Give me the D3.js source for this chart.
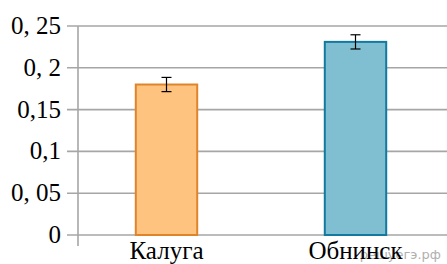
<!DOCTYPE html>
<html>
<head>
<meta charset="utf-8">
<script src="https://cdn.jsdelivr.net/npm/d3@7"></script>
<style>
    body { margin: 0; background: #fff; }
</style>
</head>
<body>
<div id="chart"></div>
<script>
// data
const cities = ['Калуга', 'Обнинск'];
const values = [0.18, 0.231];
const errors = [0.0085, 0.0085];
const yTicks = [0, 0.05, 0.1, 0.15, 0.2, 0.25];
const yTickLabels = ['0', '0, 05', '0,1', '0,15', '0, 2', '0, 25'];
const fills = ['#fec47f', '#80bed2'];
const strokes = ['#e0842a', '#13799f'];

const width = 447, height = 264;
const serif = "'Liberation Serif'";

const svg = d3.select('#chart').append('svg')
    .attr('width', width)
    .attr('height', height);

const x = d3.scaleBand()
    .domain(cities)
    .range([72, 450])
    .paddingInner(0.675)
    .paddingOuter(0.3375);

const y = d3.scaleLinear()
    .domain([0, 0.25])
    .range([235, 26]);

// horizontal grid lines
svg.selectAll('.grid')
    .data(yTicks)
    .join('line')
    .attr('class', 'grid')
    .attr('x1', 67)
    .attr('x2', width)
    .attr('y1', d => y(d))
    .attr('y2', d => y(d))
    .attr('stroke', '#a6a6a6')
    .attr('stroke-width', 1.6);

// vertical axis line
svg.append('line')
    .attr('x1', 78).attr('x2', 78)
    .attr('y1', y(0.25)).attr('y2', 246)
    .attr('stroke', '#a6a6a6')
    .attr('stroke-width', 1.6);

// tick labels
svg.selectAll('.ylabel')
    .data(yTicks)
    .join('text')
    .attr('class', 'ylabel')
    .attr('x', 61)
    .attr('y', d => y(d) + 8)
    .attr('text-anchor', 'end')
    .style('font-family', serif)
    .style('font-size', '25px')
    .text((d, i) => yTickLabels[i]);

// bars
svg.selectAll('.bar')
    .data(cities)
    .join('rect')
    .attr('class', 'bar')
    .attr('x', d => x(d))
    .attr('y', (d, i) => y(values[i]))
    .attr('width', x.bandwidth())
    .attr('height', (d, i) => y(0) - y(values[i]))
    .attr('fill', (d, i) => fills[i])
    .attr('stroke', (d, i) => strokes[i])
    .attr('stroke-width', 2);

// error bars
const err = svg.selectAll('.err')
    .data(cities)
    .join('g')
    .attr('class', 'err')
    .attr('transform', d => `translate(${x(d) + x.bandwidth() / 2},0)`);

err.append('line')
    .attr('y1', (d, i) => y(values[i] + errors[i]))
    .attr('y2', (d, i) => y(values[i] - errors[i]))
    .attr('stroke', '#000').attr('stroke-width', 1.2);
err.append('line')
    .attr('x1', -5).attr('x2', 5)
    .attr('y1', (d, i) => y(values[i] + errors[i]))
    .attr('y2', (d, i) => y(values[i] + errors[i]))
    .attr('stroke', '#000').attr('stroke-width', 1.2);
err.append('line')
    .attr('x1', -5).attr('x2', 5)
    .attr('y1', (d, i) => y(values[i] - errors[i]))
    .attr('y2', (d, i) => y(values[i] - errors[i]))
    .attr('stroke', '#000').attr('stroke-width', 1.2);

// watermark
svg.append('text')
    .attr('x', 441)
    .attr('y', 259)
    .attr('text-anchor', 'end')
    .style('font-size', '13px')
    .attr('fill', '#b0b0b0')
    .style('font-family', "'DejaVu Sans'")
    .text('решуегэ.рф');

// category labels
svg.selectAll('.xlabel')
    .data(cities)
    .join('text')
    .attr('class', 'xlabel')
    .attr('x', d => x(d) + x.bandwidth() / 2)
    .attr('y', 259)
    .attr('text-anchor', 'middle')
    .style('font-family', serif)
    .style('font-size', '25px')
    .text(d => d);
</script>
</body>
</html>
